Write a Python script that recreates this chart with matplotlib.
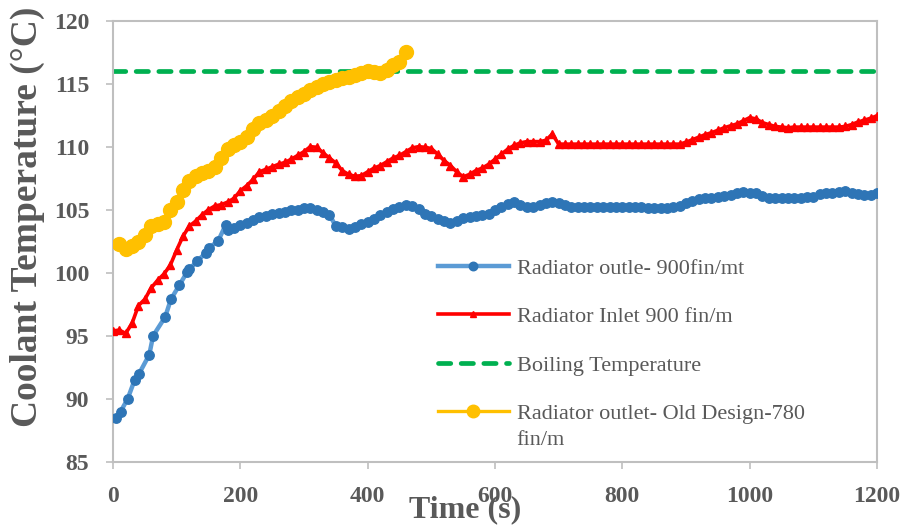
import matplotlib
matplotlib.use('Agg')
import matplotlib.pyplot as plt

# blue: radiator outlet 900 fin/m
outlet_t = [5, 12, 23, 34, 41, 57, 63, 82, 91, 104, 117, 120, 132, 146, 151, 165, 177, 181,
            190, 200, 210, 220, 230, 240, 250, 260, 270, 280, 290, 300, 310, 320, 330, 340,
            350, 360, 370, 380, 390, 400, 410, 420, 430, 440, 450, 460, 470, 480, 490, 500,
            510, 520, 530, 540, 550, 560, 570, 580, 590, 600, 610, 620, 630, 640, 650, 660,
            670, 680, 690, 700, 710, 720, 730, 740, 750, 760, 770, 780, 790, 800, 810, 820,
            830, 840, 850, 860, 870, 880, 890, 900, 910, 920, 930, 940, 950, 960, 970, 980,
            990, 1000, 1010, 1020, 1030, 1040, 1050, 1060, 1070, 1080, 1090, 1100, 1110, 1120,
            1130, 1140, 1150, 1160, 1170, 1180, 1190, 1200]
outlet_temp = [88.5, 89.0, 90.0, 91.5, 92.0, 93.5, 95.0, 96.5, 97.9, 99.0, 100.1, 100.3, 100.9,
               101.6, 102.0, 102.5, 103.8, 103.4,
               103.55, 103.8, 103.95, 104.2, 104.45, 104.5, 104.65, 104.75, 104.85, 104.95,
               105.0, 105.1, 105.15, 105.0, 104.85, 104.6, 103.7, 103.6, 103.5, 103.65,
               103.85, 104.05, 104.3, 104.55, 104.8, 105.05, 105.25, 105.35, 105.3, 105.05,
               104.7, 104.5, 104.3, 104.1, 103.95, 104.1, 104.35, 104.45, 104.5, 104.55,
               104.7, 104.95, 105.2, 105.45, 105.6, 105.4, 105.25, 105.2, 105.35, 105.55,
               105.65, 105.5, 105.35, 105.25, 105.2, 105.2, 105.2, 105.2, 105.2, 105.2,
               105.2, 105.2, 105.2, 105.2, 105.2, 105.15, 105.1, 105.1, 105.15, 105.2,
               105.3, 105.55, 105.7, 105.85, 105.9, 105.95, 106.0, 106.05, 106.15, 106.35,
               106.4, 106.35, 106.3, 106.05, 105.95, 105.9, 105.9, 105.9, 105.95, 105.95,
               106.0, 106.0, 106.25, 106.3, 106.35, 106.4, 106.45, 106.35, 106.25, 106.15,
               106.2, 106.35]

# red: radiator inlet 900 fin/m, every 10 s
inlet_t = list(range(0, 1201, 10))
inlet_temp = [95.4, 95.45, 95.2, 96.0, 97.4, 97.9, 98.8, 99.4, 99.9, 100.6,
              101.8, 102.9, 103.7, 104.1, 104.6, 105.0, 105.3, 105.4, 105.6, 105.9,
              106.5, 106.9, 107.4, 108.0, 108.2, 108.4, 108.6, 108.75, 109.0, 109.3,
              109.6, 110.0, 109.95, 109.5, 109.1, 108.7, 108.1, 107.8, 107.65, 107.7,
              108.0, 108.3, 108.5, 108.8, 109.1, 109.3, 109.6, 109.9, 110.0, 109.95,
              109.85, 109.4, 108.9, 108.5, 108.0, 107.6, 107.8, 108.1, 108.3, 108.6,
              109.0, 109.4, 109.8, 110.1, 110.3, 110.4, 110.4, 110.4, 110.5, 111.0,
              110.2, 110.2, 110.2, 110.2, 110.2, 110.2, 110.2, 110.2, 110.2, 110.2,
              110.2, 110.2, 110.2, 110.2, 110.2, 110.2, 110.2, 110.2, 110.2, 110.2,
              110.35, 110.55, 110.75, 110.95, 111.1, 111.3, 111.5, 111.65, 111.8, 112.05,
              112.3, 112.2, 111.9, 111.75, 111.6, 111.55, 111.5, 111.55, 111.55, 111.55,
              111.55, 111.55, 111.55, 111.55, 111.55, 111.6, 111.75, 111.95, 112.1, 112.25,
              112.45]

boiling_t = [0, 1200]
boiling_temp = [116, 116]

# yellow: old design 780 fin/m
old_t = list(range(10, 461, 10))
old_temp = [102.25, 101.9, 102.1, 102.45, 103.0, 103.7, 103.9, 104.0, 105.0, 105.6,
            106.6, 107.3, 107.7, 107.9, 108.1, 108.4, 109.1, 109.8, 110.1, 110.4,
            110.8, 111.4, 111.9, 112.1, 112.4, 112.8, 113.2, 113.6, 113.9, 114.2,
            114.5, 114.75, 115.0, 115.15, 115.3, 115.45, 115.55, 115.7, 115.85, 116.0,
            115.95, 115.85, 116.1, 116.5, 116.7, 117.5]

labels = ['Radiator outle- 900fin/mt', 'Radiator Inlet 900 fin/m',
          'Boiling Temperature', 'Radiator outlet- Old Design-780']
label_wrap = 'fin/m'

grey = '#595959'
plt.rcParams['font.family'] = ['Liberation Serif', 'DejaVu Serif']

fig = plt.figure(figsize=(9.06, 5.26), dpi=100)
ax = fig.add_axes([0.1247, 0.1217, 0.8433, 0.8393])

ax.plot(outlet_t, outlet_temp, color='#5B9BD5', lw=3.2, marker='o', ms=6.8,
        mfc='#2E75B6', mec='#2E75B6', label=labels[0], zorder=3)
ax.plot(inlet_t, inlet_temp, color='#FF0000', lw=2.6, marker='^', ms=5.5,
        mfc='#FF0000', mec='#FF0000', label=labels[1], zorder=3)
ax.plot(boiling_t, boiling_temp, color='#00B050', lw=3.4, ls=(0, (2.6, 2.2)),
        dash_capstyle='round', label=labels[2], zorder=2)
ax.plot(old_t, old_temp, color='#FFC000', lw=2.4, marker='o', ms=10,
        mfc='#FFC000', mec='#FFC000', label=labels[3], zorder=4)

ax.set_xlim(0, 1200)
ax.set_ylim(85, 120)
ax.set_xticks(range(0, 1201, 200))
ax.set_yticks(range(85, 121, 5))

for s in ax.spines.values():
    s.set_color('#BFBFBF')
    s.set_linewidth(1.5)
ax.tick_params(direction='out', length=5, width=1.2, color='#BFBFBF',
               labelsize=17, labelcolor=grey, pad=12)
for lb in ax.get_xticklabels() + ax.get_yticklabels():
    lb.set_fontweight('bold')

ax.set_xlabel('Time (s)', fontsize=23, fontweight='bold', color=grey, va='center')
ax.xaxis.set_label_coords(0.4607, -0.107)
ax.set_ylabel('Coolant Temperature (°C)', fontsize=27, fontweight='bold', color=grey, va='center')
ax.yaxis.set_label_coords(-0.1126, 0.556)

leg = ax.legend(loc='upper left', bbox_to_anchor=(0.425, 0.462), frameon=False,
                fontsize=16, handlelength=3.2, handletextpad=0.35, labelspacing=1.26,
                borderpad=0, borderaxespad=0, markerscale=0.9)
for t in leg.get_texts():
    t.set_color(grey)

# second line of the last legend entry, under its first line
fig.canvas.draw()
bb = leg.get_texts()[3].get_window_extent()
fig.text(bb.x0 / fig.bbox.width, (bb.y0 - 7) / fig.bbox.height, label_wrap,
         fontsize=16, color=grey, ha='left', va='top')

fig.savefig('out.png', dpi=100)
